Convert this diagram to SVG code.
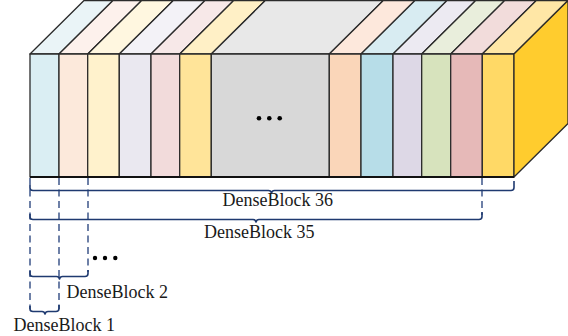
<svg xmlns="http://www.w3.org/2000/svg" width="568" height="336" viewBox="0 0 568 336">
<style>
.f{stroke:#2b2b2b;stroke-width:1.3;stroke-linejoin:round}
.dash{fill:none;stroke:#4a6192;stroke-width:1.6;stroke-dasharray:7 4.5}
.brace{fill:none;stroke:#1f3a70;stroke-width:1.6;stroke-linejoin:round}
.lbl{font-family:"Liberation Serif","Times New Roman",serif;font-size:18px;fill:#1a1a1a}
</style>
<rect width="568" height="336" fill="#ffffff"/>
<g id="slabs">
<g id="s1"><polygon class="f" fill="#EAF4F7" points="30,54 59,54 113,0.5 84,0.5"/><rect class="f" fill="#DAEEF3" x="30" y="54" width="29" height="123"/></g>
<g id="s2"><polygon class="f" fill="#FDF1EC" points="59,54 87.7,54 141.7,0.5 113,0.5"/><rect class="f" fill="#FCE9DB" x="59" y="54" width="28.7" height="123"/></g>
<g id="s3"><polygon class="f" fill="#FFF7E0" points="87.7,54 119.3,54 173.3,0.5 141.7,0.5"/><rect class="f" fill="#FFF2CC" x="87.7" y="54" width="31.6" height="123"/></g>
<g id="s4"><polygon class="f" fill="#F3F2F7" points="119.3,54 151,54 205,0.5 173.3,0.5"/><rect class="f" fill="#EAE8F0" x="119.3" y="54" width="31.7" height="123"/></g>
<g id="s5"><polygon class="f" fill="#F7E8E8" points="151,54 179.7,54 233.7,0.5 205,0.5"/><rect class="f" fill="#F2DBDB" x="151" y="54" width="28.7" height="123"/></g>
<g id="s6"><polygon class="f" fill="#FFF0C6" points="179.7,54 211.3,54 265.3,0.5 233.7,0.5"/><rect class="f" fill="#FFE499" x="179.7" y="54" width="31.6" height="123"/></g>
<g id="s7"><polygon class="f" fill="#E8E8E8" points="211.3,54 329.3,54 383.3,0.5 265.3,0.5"/><rect class="f" fill="#D8D8D8" x="211.3" y="54" width="118" height="123"/>
<circle cx="259" cy="118.3" r="2.3" fill="#000"/><circle cx="269.3" cy="118.3" r="2.3" fill="#000"/><circle cx="279.7" cy="118.3" r="2.3" fill="#000"/></g>
<g id="s8"><polygon class="f" fill="#FDE8DC" points="329.3,54 361,54 415,0.5 383.3,0.5"/><rect class="f" fill="#FAD6B9" x="329.3" y="54" width="31.7" height="123"/></g>
<g id="s9"><polygon class="f" fill="#D8ECF2" points="361,54 393,54 447,0.5 415,0.5"/><rect class="f" fill="#B7DDE8" x="361" y="54" width="32" height="123"/></g>
<g id="s10"><polygon class="f" fill="#ECEAF2" points="393,54 421.7,54 475.7,0.5 447,0.5"/><rect class="f" fill="#DDD8E6" x="393" y="54" width="28.7" height="123"/></g>
<g id="s11"><polygon class="f" fill="#E9EEDC" points="421.7,54 450.7,54 504.7,0.5 475.7,0.5"/><rect class="f" fill="#D7E3BD" x="421.7" y="54" width="29" height="123"/></g>
<g id="s12"><polygon class="f" fill="#F2DCDB" points="450.7,54 482.3,54 536.3,0.5 504.7,0.5"/><rect class="f" fill="#E6B9B8" x="450.7" y="54" width="31.6" height="123"/></g>
<g id="s13"><polygon class="f" fill="#FFE7A6" points="482.3,54 514,54 568,0.5 536.3,0.5"/><rect class="f" fill="#FFD966" x="482.3" y="54" width="31.7" height="123"/>
<polygon class="f" fill="#FFCC2E" points="514,54 568,0.5 568,123.5 514,177"/></g>
<line x1="30" y1="177" x2="514" y2="177" stroke="#111" stroke-width="2"/>
</g>
<g id="connectors">
<line class="dash" x1="30" y1="178" x2="30" y2="309"/>
<line class="dash" x1="59" y1="178" x2="59" y2="309"/>
<line class="dash" x1="88" y1="178" x2="88" y2="272"/>
<line class="dash" x1="482" y1="178" x2="482" y2="215"/>
<path class="brace" d="M30,185 V188 Q30,190.5 33,190.5 H268.5 Q271,190.5 271.5,193 Q272,190.5 274.5,190.5 H511 Q514,190.5 514,187.5 V181"/>
<path class="brace" d="M30,214 V217 Q30,219.5 33,219.5 H253 Q255.5,219.5 256,222 Q256.5,219.5 259,219.5 H479 Q482,219.5 482,216.5 V212"/>
<path class="brace" d="M30,271 V274 Q30,276.5 33,276.5 H56.5 Q59,276.5 59.5,279 Q60,276.5 62.5,276.5 H85 Q88,276.5 88,273.5 V270"/>
<path class="brace" d="M30,306 V309 Q30,311.5 33,311.5 H42 Q44.5,311.5 45,314 Q45.5,311.5 48,311.5 H56 Q59,311.5 59,308.5 V305"/>
<circle cx="95" cy="258" r="2.2" fill="#000"/><circle cx="105" cy="258" r="2.2" fill="#000"/><circle cx="115.3" cy="258" r="2.2" fill="#000"/>
</g>
<g id="labels">
<text class="lbl" x="222.5" y="205.5">DenseBlock 36</text>
<text class="lbl" x="204" y="237.5">DenseBlock 35</text>
<text class="lbl" x="66.5" y="298">DenseBlock 2</text>
<text class="lbl" x="13.5" y="330.5">DenseBlock 1</text>
</g>
</svg>
